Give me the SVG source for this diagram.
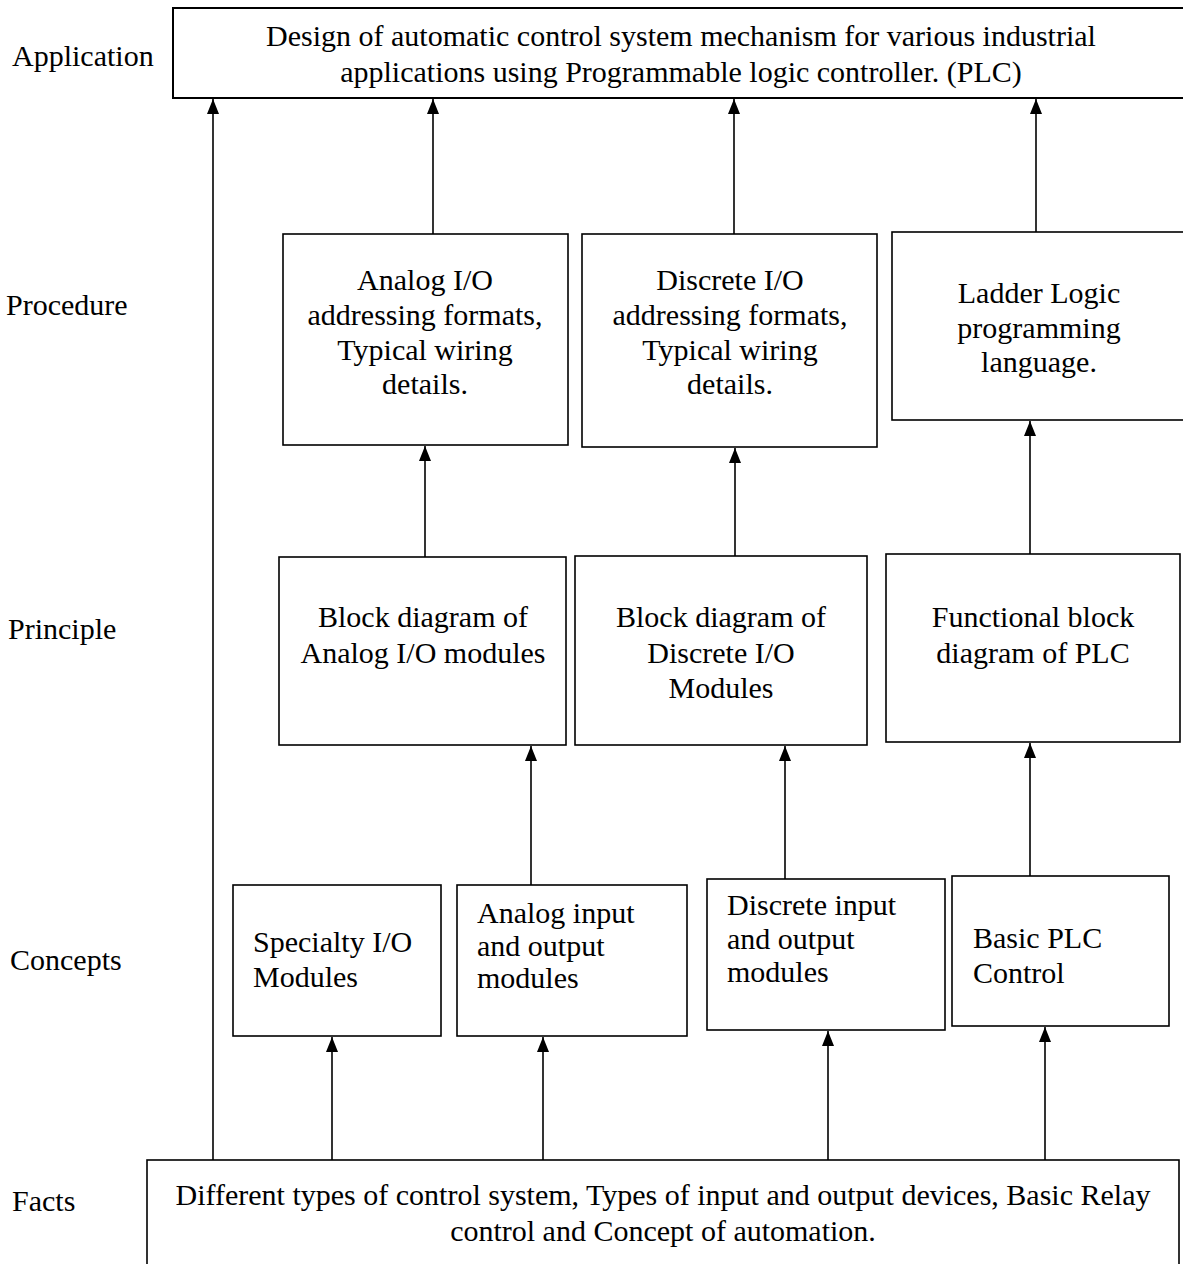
<svg xmlns="http://www.w3.org/2000/svg" width="1183" height="1264" viewBox="0 0 1183 1264">
<defs>
<style>
.box{fill:#fff;stroke:#000;stroke-width:1.6}
.t{font-family:"Liberation Serif","Times New Roman",serif;font-size:30px;fill:#000}
.c{text-anchor:middle}
.ln{stroke:#000;stroke-width:1.6;fill:none;marker-end:url(#ah)}
</style>
<marker id="ah" markerUnits="userSpaceOnUse" markerWidth="15" markerHeight="12" refX="15" refY="6" orient="auto" viewBox="0 0 15 12">
<path d="M0,0 L15,6 L0,12 Z" fill="#000"/>
</marker>
</defs>
<rect width="1183" height="1264" fill="#fff"/>

<g id="labels">
<text class="t" x="12" y="66">Application</text>
<text class="t" x="6" y="315">Procedure</text>
<text class="t" x="8" y="639">Principle</text>
<text class="t" x="10" y="970">Concepts</text>
<text class="t" x="12" y="1211">Facts</text>
</g>

<g id="connectors">
<line class="ln" x1="213" y1="1160" x2="213" y2="99"/>
<line class="ln" x1="433" y1="234" x2="433" y2="99"/>
<line class="ln" x1="734" y1="234" x2="734" y2="99"/>
<line class="ln" x1="1036" y1="232" x2="1036" y2="99"/>
<line class="ln" x1="425" y1="557" x2="425" y2="446"/>
<line class="ln" x1="735" y1="556" x2="735" y2="448"/>
<line class="ln" x1="1030" y1="554" x2="1030" y2="421"/>
<line class="ln" x1="531" y1="885" x2="531" y2="746"/>
<line class="ln" x1="785" y1="879" x2="785" y2="746"/>
<line class="ln" x1="1030" y1="876" x2="1030" y2="743"/>
<line class="ln" x1="332" y1="1160" x2="332" y2="1037"/>
<line class="ln" x1="543" y1="1160" x2="543" y2="1037"/>
<line class="ln" x1="828" y1="1160" x2="828" y2="1031"/>
<line class="ln" x1="1045" y1="1160" x2="1045" y2="1027"/>
</g>

<g id="application">
<rect class="box" x="173" y="8" width="1025" height="90" style="stroke-width:2"/>
<text class="t c" x="681" y="46">Design of automatic control system mechanism for various industrial</text>
<text class="t c" x="681" y="82">applications using Programmable logic controller. (PLC)</text>
</g>

<g id="proc-analog">
<rect class="box" x="283" y="234" width="285" height="211"/>
<text class="t c" x="425" y="290">Analog I/O</text>
<text class="t c" x="425" y="325">addressing formats,</text>
<text class="t c" x="425" y="360">Typical wiring</text>
<text class="t c" x="425" y="394">details.</text>
</g>

<g id="proc-discrete">
<rect class="box" x="582" y="234" width="295" height="213"/>
<text class="t c" x="730" y="290">Discrete I/O</text>
<text class="t c" x="730" y="325">addressing formats,</text>
<text class="t c" x="730" y="360">Typical wiring</text>
<text class="t c" x="730" y="394">details.</text>
</g>

<g id="proc-ladder">
<rect class="box" x="892" y="232" width="300" height="188"/>
<text class="t c" x="1039" y="303">Ladder Logic</text>
<text class="t c" x="1039" y="338">programming</text>
<text class="t c" x="1039" y="372">language.</text>
</g>

<g id="prin-analog">
<rect class="box" x="279" y="557" width="287" height="188"/>
<text class="t c" x="423" y="627">Block diagram of</text>
<text class="t c" x="423" y="663">Analog I/O modules</text>
</g>

<g id="prin-discrete">
<rect class="box" x="575" y="556" width="292" height="189"/>
<text class="t c" x="721" y="627">Block diagram of</text>
<text class="t c" x="721" y="663">Discrete I/O</text>
<text class="t c" x="721" y="698">Modules</text>
</g>

<g id="prin-functional">
<rect class="box" x="886" y="554" width="294" height="188"/>
<text class="t c" x="1033" y="627">Functional block</text>
<text class="t c" x="1033" y="663">diagram of PLC</text>
</g>

<g id="con-specialty">
<rect class="box" x="233" y="885" width="208" height="151"/>
<text class="t" x="253" y="952">Specialty I/O</text>
<text class="t" x="253" y="987">Modules</text>
</g>

<g id="con-analog">
<rect class="box" x="457" y="885" width="230" height="151"/>
<text class="t" x="477" y="923">Analog input</text>
<text class="t" x="477" y="956">and output</text>
<text class="t" x="477" y="988">modules</text>
</g>

<g id="con-discrete">
<rect class="box" x="707" y="879" width="238" height="151"/>
<text class="t" x="727" y="915">Discrete input</text>
<text class="t" x="727" y="949">and output</text>
<text class="t" x="727" y="982">modules</text>
</g>

<g id="con-basic">
<rect class="box" x="952" y="876" width="217" height="150"/>
<text class="t" x="973" y="948">Basic PLC</text>
<text class="t" x="973" y="983">Control</text>
</g>

<g id="facts">
<rect class="box" x="147" y="1160" width="1032" height="120"/>
<text class="t c" x="663" y="1205">Different types of control system, Types of input and output devices, Basic Relay</text>
<text class="t c" x="663" y="1241">control and Concept of automation.</text>
</g>
</svg>
